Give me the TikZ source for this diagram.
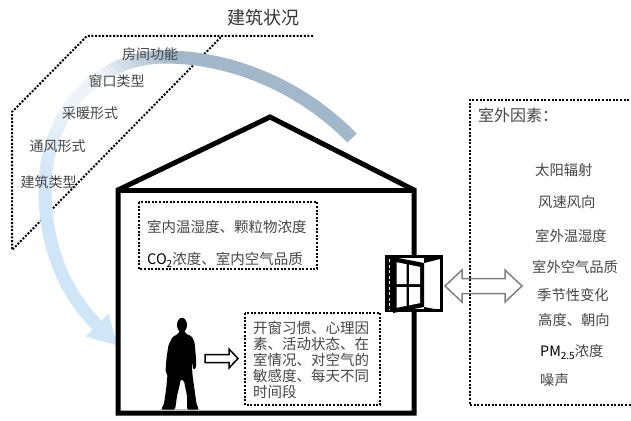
\documentclass[tikz,border=0pt]{standalone}
\usepackage{fontspec}
\setmainfont{Noto Sans CJK SC}
\definecolor{txt}{HTML}{454545}
\definecolor{bandgray}{HTML}{A3B7CB}
\definecolor{bandwhite}{HTML}{EEF4FA}
\definecolor{bandblue}{HTML}{D0E5F8}
\definecolor{arrgray}{HTML}{808080}
\newcommand{\subtxt}[1]{\raisebox{-0.35ex}{\fontsize{10}{10}\selectfont #1}}

\begin{document}
\begin{tikzpicture}[x=1pt,y=-1pt,
  dotline/.style={line width=2pt, dash pattern=on 2pt off 1.6pt},
  wall/.style={line width=5pt, line join=miter},
  lbl/.style={text=txt, inner sep=0pt, font=\fontsize{14}{16}\selectfont},
  boxtxt/.style={text=txt, inner sep=0pt, anchor=west, font=\fontsize{14.5}{16}\selectfont},
  outtxt/.style={text=txt, inner sep=0pt, anchor=west, font=\fontsize{14.3}{16}\selectfont},
  band/.style={line width=13pt, line cap=butt}
]
\useasboundingbox (0,0) rectangle (631,420);

% ---- building-condition panel (dotted parallelogram) ----
\draw[dotline] (313,36) -- (87,36) -- (12,112) -- (12,250) -- (222,36);
\node[text=black!80, inner sep=0pt, font=\fontsize{18}{20}\selectfont] (title) at (263,18) {建筑状况};

% ---- curved arrow, coloured in strips along a diagonal ----
\foreach \i in {0,...,63} {
  \pgfmathsetmacro\sa{-165+\i*5.5}
  \pgfmathsetmacro\sb{\sa+6}
  \pgfmathsetmacro\sc{\sa+3}
  \pgfmathtruncatemacro\pa{max(0,min(1,(\sc+80)/60))*100}
  \pgfmathtruncatemacro\pb{max(0,min(1,(\sc-25)/75))*100}
  \colorlet{stripA}{bandwhite!\pa!bandgray}
  \colorlet{stripB}{bandblue!\pb!stripA}
  \begin{scope}
    \clip[rotate=225] (\sa,-700) rectangle (\sb,700);
    \draw[band, draw=stripB] (352,138) .. controls (300,85) and (230,57) .. (165,57)
      .. controls (100,57) and (45,110) .. (45,190)
      .. controls (45,260) and (75,303) .. (97,325);
  \end{scope}
}
\coordinate (headbase) at (97,325);
\fill[bandblue] (108.5,313.5) -- (117.5,345.5) -- (85.5,336.5) -- cycle;

% ---- labels of the building panel ----
\node[lbl] (l1) at (150,54) {房间功能};
\node[lbl] (l2) at (116.5,81) {窗口类型};
\node[lbl] (l3) at (90,113) {采暖形式};
\node[lbl] (l4) at (57.5,146) {通风形式};
\node[lbl] (l5) at (48.5,182) {建筑类型};

% ---- house ----
\draw[wall] (118,413) -- (118,190) -- (270,117) -- (414,190) -- (414,413) -- cycle;
\draw[wall] (118,190) -- (414,190);

% ---- indoor-environment box ----
\draw[dotline] (139,202) rectangle (317,269);
\node[boxtxt] (in1) at (147,227) {室内温湿度、颗粒物浓度};
\node[boxtxt] (in2) at (147,260) {\textcolor{black}{CO\subtxt{2}}浓度、室内空气品质};

% ---- occupant box ----
\draw[dotline] (245,313) rectangle (380,405);
\node[boxtxt] (p1) at (253,328) {开窗习惯、心理因};
\node[boxtxt] (p2) at (253,344) {素、活动状态、在};
\node[boxtxt] (p3) at (253,360) {室情况、对空气的};
\node[boxtxt] (p4) at (253,376) {敏感度、每天不同};
\node[boxtxt] (p5) at (253,392) {时间段};

% ---- occupant silhouette ----
\fill[gray!55] (160,408.5) rectangle (200,411);
\fill[black] (182,325) ellipse [x radius=5, y radius=7.2];
\fill[black, rounded corners=1.5pt]
  (180,330) -- (184,330) -- (186,334) -- (191.5,336) -- (194.5,342) -- (196,358)
  -- (196,368) -- (193.5,370) -- (191.5,360) -- (191,350) -- (192.5,375)
  -- (196.5,404) -- (199,409.5) -- (187,409.5) -- (187,396) -- (184,381) -- (181,379)
  -- (177,396) -- (175.5,407) -- (175,409.5) -- (161,409.5) -- (164,404)
  -- (166.5,386) -- (167.5,374) -- (165.5,372) -- (166.5,358) -- (168.5,345) -- (172.5,337)
  -- (178,334) -- cycle;

% ---- arrow from occupant to occupant box ----
\draw[line width=1.5pt, fill=white, line join=miter]
  (205,354.5) -- (229,354.5) -- (229,349) -- (238,358.5) -- (229,368)
  -- (229,362.5) -- (205,362.5) -- cycle;

% ---- window in the right wall ----
\draw[line width=2.7pt, fill=white] (386.4,256.4) rectangle (441.6,310.6);
\fill[black] (385,255) rectangle (393.5,312);
\draw[white, line width=1pt, dash pattern=on 3pt off 2.5pt] (389,259) -- (389,309);
\fill[black] (393,257) -- (424,263) -- (424,307) -- (393,313) -- cycle;
\fill[black] (424,257) -- (440,257) -- (440,259) -- (424,263) -- cycle;
\fill[black] (424,307) -- (440,310) -- (440,312) -- (424,311) -- cycle;
\fill[white] (396.5,262.2) -- (406.5,264.2) -- (406.5,284) -- (396.5,284) -- cycle;
\fill[white] (409,264.7) -- (420,266.9) -- (420,284) -- (409,284) -- cycle;
\fill[white] (396.5,287) -- (406.5,287) -- (406.5,305.8) -- (396.5,307.8) -- cycle;
\fill[white] (409,287) -- (420,287) -- (420,303.1) -- (409,305.3) -- cycle;

% ---- outdoor-factor box ----
\draw[dotline] (640,100) -- (470,100) -- (470,405) -- (640,405);
\node[text=txt, inner sep=0pt, anchor=west, font=\fontsize{16}{18}\selectfont] (outhead) at (478,115) {室外因素：};
\node[outtxt] (o1) at (535,170) {太阳辐射};
\node[outtxt] (o2) at (538,202) {风速风向};
\node[outtxt] (o3) at (535,236) {室外温湿度};
\node[outtxt] (o4) at (532,267) {室外空气品质};
\node[outtxt] (o5) at (537,295) {季节性变化};
\node[outtxt] (o6) at (538,320) {高度、朝向};
\node[outtxt] (o7) at (540,352) {\textcolor{black}{PM\subtxt{2.5}}浓度};
\node[outtxt] (o8) at (540,380) {噪声};

% ---- exchange arrow between window and outdoors ----
\draw[arrgray, line width=1.5pt, line join=miter]
  (445,286) -- (462,270) -- (462,278.5) -- (505,278.5) -- (505,270) -- (522,286)
  -- (505,302) -- (505,293.5) -- (462,293.5) -- (462,302) -- cycle;
\end{tikzpicture}
\end{document}
